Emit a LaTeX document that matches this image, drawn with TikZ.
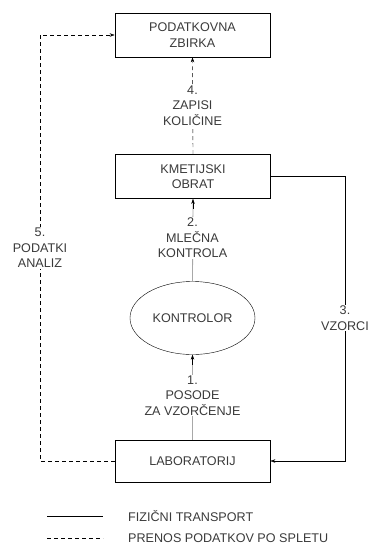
\documentclass[tikz,border=0pt]{standalone}
\usepackage{fontspec}
\setmainfont{Liberation Sans}
\usepackage{tikz}
\usetikzlibrary{shapes.geometric,arrows.meta,positioning,calc}

\definecolor{txtgray}{HTML}{3A3A3A}
\definecolor{linegray}{HTML}{A8A8A8}

\tikzset{
    unitbox/.style={draw, thick, minimum width=155pt, minimum height=44pt, align=center, text=txtgray},
    flowlabel/.style={fill=white, align=center, text=txtgray, inner sep=1pt},
    tip/.style={-{Stealth[length=5pt,width=3.5pt]}},
    datalink/.style={dash pattern=on 4pt off 3pt},
}

\begin{document}
\begin{tikzpicture}[x=1pt, y=-1pt, font=\fontsize{12.6}{15.5}\selectfont]
    \useasboundingbox (0,0) rectangle (369,547);

    % units
    \node[unitbox] (zbirka) at (192.5,35) {PODATKOVNA\\ZBIRKA};
    \node[unitbox] (obrat) at (193,176.5) {KMETIJSKI\\OBRAT};
    \node[draw, ellipse, minimum width=125pt, minimum height=73pt, inner sep=0pt, text=txtgray] (kontrolor) at (192.5,318) {KONTROLOR};
    \node[unitbox, minimum height=42pt] (lab) at (192.5,461) {LABORATORIJ};

    % 1. posode
    \draw[linegray, thick] (lab.north) -- (kontrolor.south);
    \draw[tip, black] ($(kontrolor.south)+(0,10)$) -- (kontrolor.south);
    \node[flowlabel] (posode) at (192.5,395.5) {1.\\POSODE\\ZA VZOR\v{C}ENJE};

    % 2. mlecna kontrola
    \draw[linegray, thick] (kontrolor.north) -- (obrat.south);
    \draw[tip, black] ($(obrat.south)+(0,10)$) -- (obrat.south);
    \node[flowlabel] (mlecna) at (192.5,238) {2.\\MLE\v{C}NA\\KONTROLA};

    % 4. zapisi kolicine
    \draw[tip, datalink] (obrat.north) -- (zbirka.south);
    \node[flowlabel] (zapisi) at (192.5,105.5) {4.\\ZAPISI\\KOLI\v{C}INE};

    % 5. podatki analiz
    \coordinate (lableft) at (40,461);
    \coordinate (topleft) at (40,35);
    \draw[tip, datalink] (lab.west) -- (lableft) -- (topleft) -- (zbirka.west);
    \node[flowlabel] (analiz) at (40,248) {5.\\PODATKI\\ANALIZ};

    % 3. vzorci
    \coordinate (obratright) at (345,176.5);
    \coordinate (labright) at (345,461);
    \draw[tip] (obrat.east) -- (obratright) -- (labright) -- (lab.east);
    \node[flowlabel] (vzorci) at (345,318) {3.\\VZORCI};

    % legend
    \coordinate (fiza) at (47,516);
    \coordinate (fizb) at (103,516);
    \coordinate (spla) at (47,538);
    \coordinate (splb) at (103,538);
    \draw (fiza) -- (fizb);
    \draw[datalink] (spla) -- (splb);
    \node[anchor=west, text=txtgray, inner sep=0pt] (fiztxt) at (128,516) {FIZI\v{C}NI TRANSPORT};
    \node[anchor=west, text=txtgray, inner sep=0pt] (spltxt) at (128,538) {PRENOS PODATKOV PO SPLETU};
\end{tikzpicture}
\end{document}
